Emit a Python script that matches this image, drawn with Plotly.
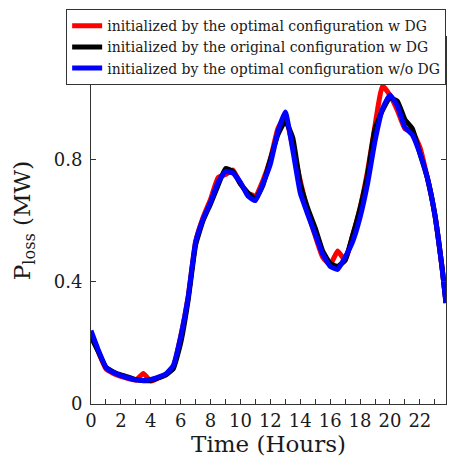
import plotly.graph_objects as go

hours = [0, 0.5, 1, 1.5, 2, 2.5, 3, 3.5, 4, 4.5, 5, 5.5, 6, 6.5, 7, 7.5, 8, 8.5, 9, 9.5,
         10, 10.5, 11, 11.5, 12, 12.5, 13, 13.5, 14, 14.5, 15, 15.5, 16, 16.5, 17, 17.5,
         18, 18.5, 19, 19.5, 20, 20.5, 21, 21.5, 22, 22.5, 23, 23.5, 23.75]

opt_wDG = [0.23, 0.17, 0.115, 0.10, 0.09, 0.083, 0.078, 0.10, 0.075, 0.085, 0.095, 0.12,
           0.22, 0.35, 0.53, 0.61, 0.67, 0.74, 0.75, 0.765, 0.72, 0.69, 0.68, 0.73,
           0.80, 0.90, 0.94, 0.84, 0.73, 0.63, 0.55, 0.48, 0.455, 0.50, 0.47, 0.55,
           0.64, 0.76, 0.91, 1.04, 1.01, 0.96, 0.90, 0.89, 0.84, 0.74, 0.62, 0.44, 0.33]

orig_wDG = [0.22, 0.17, 0.12, 0.105, 0.095, 0.088, 0.08, 0.076, 0.077, 0.085, 0.095, 0.115,
            0.20, 0.34, 0.52, 0.60, 0.655, 0.715, 0.77, 0.76, 0.72, 0.69, 0.67, 0.715,
            0.80, 0.88, 0.925, 0.87, 0.72, 0.64, 0.575, 0.50, 0.46, 0.45, 0.47, 0.55,
            0.64, 0.75, 0.90, 0.96, 1.00, 0.99, 0.93, 0.90, 0.82, 0.74, 0.62, 0.44, 0.33]

opt_woDG = [0.24, 0.175, 0.12, 0.103, 0.093, 0.085, 0.079, 0.077, 0.080, 0.088, 0.098, 0.125,
            0.22, 0.35, 0.53, 0.605, 0.66, 0.725, 0.76, 0.755, 0.725, 0.68, 0.665, 0.72,
            0.785, 0.89, 0.955, 0.83, 0.69, 0.62, 0.555, 0.49, 0.45, 0.44, 0.48, 0.53,
            0.61, 0.72, 0.86, 0.965, 1.01, 0.975, 0.905, 0.88, 0.82, 0.74, 0.62, 0.44, 0.33]

names = ["initialized by the optimal configuration w DG",
         "initialized by the original configuration w DG",
         "initialized by the optimal configuration w/o DG"]
colors = ["#ff0000", "#000000", "#0000ff"]

x_tickvals = [0, 2, 4, 6, 8, 10, 12, 14, 16, 18, 20, 22]
x_ticktext = ["0", "2", "4", "6", "8", "10", "12", "14", "16", "18", "20", "22"]
y_tickvals = [0, 0.4, 0.8]
y_ticktext = ["0", "0.4", "0.8"]

fig = go.Figure()
for series, name, color in zip([opt_wDG, orig_wDG, opt_woDG], names, colors):
    fig.add_trace(go.Scatter(x=hours, y=series, mode="lines", name=name,
                             line=dict(color=color, width=5, shape="spline", smoothing=0.4)))

font_family = '"DejaVu Serif", serif'
fig.update_layout(
    width=455, height=469,
    margin=dict(l=91, r=9, t=34, b=65),
    paper_bgcolor="white", plot_bgcolor="white",
    font=dict(family=font_family, color="#1a1a1a"),
    showlegend=True,
    legend=dict(x=-0.07, y=1.076, xanchor="left", yanchor="top",
                bgcolor="white", bordercolor="#333", borderwidth=1,
                font=dict(size=14, family=font_family, color="#1a1a1a"),
                tracegroupgap=0),
    xaxis=dict(range=[0, 23.75], tickvals=x_tickvals, ticktext=x_ticktext,
               ticks="inside", ticklen=5, tickcolor="#333", showgrid=False,
               minor=dict(dtick=1, tick0=0, ticks="inside", ticklen=5, tickcolor="#333", showgrid=False),
               zeroline=False, showline=True, linecolor="#333", linewidth=1, mirror=True,
               tickfont=dict(size=18, family=font_family),
               title=dict(text="Time (Hours)", font=dict(size=23, family=font_family), standoff=4)),
    yaxis=dict(range=[0, 1.2], tickvals=y_tickvals, ticktext=y_ticktext,
               ticks="inside", ticklen=5, tickcolor="#333", showgrid=False,
               zeroline=False, showline=True, linecolor="#333", linewidth=1, mirror="ticks",
               tickfont=dict(size=18, family=font_family), ticklabelstandoff=4,
               title=dict(text="P<sub>loss</sub> (MW)", font=dict(size=23, family=font_family), standoff=16)),
)

fig.write_html("out.html")
